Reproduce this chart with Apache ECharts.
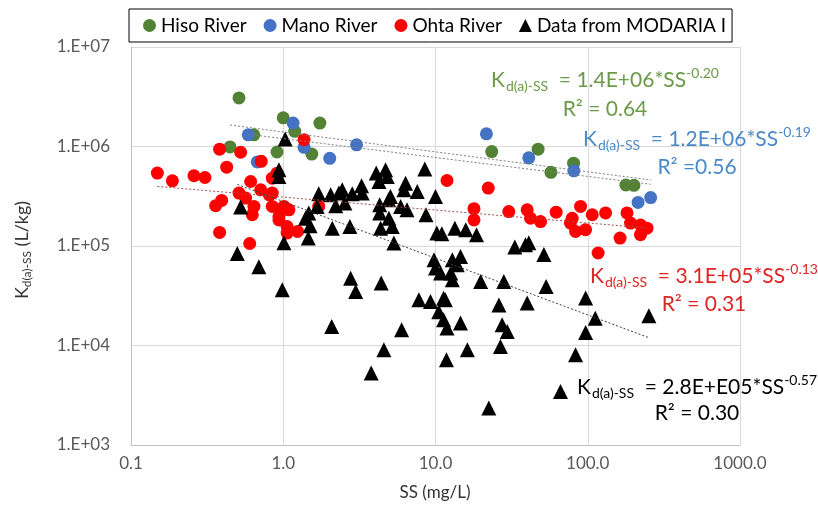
<!DOCTYPE html>
<html>
<head>
<meta charset="utf-8">
<script src="https://cdn.jsdelivr.net/npm/echarts@6/dist/echarts.min.js"></script>
<style>
  html, body { margin: 0; padding: 0; background: #fff; }
  #chart { width: 818px; height: 512px; }
</style>
</head>
<body>
<div id="chart"></div>
<script>
// Suspended solids (mg/L) and apparent distribution coefficient Kd(a)-SS (L/kg)
const hisoSS = [0.512, 1.0, 1.19, 1.74, 0.64, 0.447, 0.91, 1.54, 23.4, 47.2, 57.3, 80.7, 178, 201];
const hisoKd = [3.08e6, 1.94e6, 1.42e6, 1.72e6, 1.31e6, 9.9e5, 8.8e5, 8.4e5, 8.9e5, 9.4e5, 5.5e5, 6.8e5, 4.1e5, 4.07e5];

const manoSS = [0.589, 1.16, 1.37, 3.03, 2.02, 0.675, 21.6, 41, 81, 214, 259];
const manoKd = [1.31e6, 1.72e6, 9.8e5, 1.04e6, 7.6e5, 7.0e5, 1.34e6, 7.7e5, 5.7e5, 2.74e5, 3.07e5];

const ohtaSS = [0.149, 0.187, 0.259, 0.306, 0.382, 0.525, 0.425, 0.717, 0.382, 0.602,
  0.36, 0.394, 0.512, 0.611, 0.711, 0.566, 0.642, 0.626, 0.847, 0.847,
  0.847, 0.937, 1.01, 1.37, 0.91, 0.81, 0.985, 1.09, 0.937, 1.06,
  1.06, 1.24, 1.71, 11.9, 22.2, 17.9, 17.9, 30.3, 40, 42.1,
  49, 62, 79, 89.7, 83.2, 96.7, 107, 131, 117, 163,
  181, 191, 222, 222, 245, 77];
const ohtaKd = [5.41e5, 4.52e5, 5.08e5, 4.88e5, 9.4e5, 8.75e5, 6.2e5, 7.1e5, 1.37e5, 1.06e5,
  2.54e5, 2.87e5, 3.4e5, 4.45e5, 3.67e5, 3.03e5, 2.5e5, 2.06e5, 4.81e5, 3.4e5,
  2.5e5, 1.98e5, 2.5e5, 1.17e6, 5.4e5, 3.27e5, 2.31e5, 2.31e5, 1.83e5, 1.57e5,
  1.35e5, 1.4e5, 2.5e5, 4.55e5, 3.82e5, 2.37e5, 1.83e5, 2.22e5, 2.31e5, 1.9e5,
  1.76e5, 2.19e5, 1.9e5, 2.5e5, 1.4e5, 1.46e5, 2.06e5, 2.15e5, 8.5e4, 1.2e5,
  2.15e5, 1.7e5, 1.63e5, 1.3e5, 1.51e5, 1.7e5];

const modariaSS = [1.03, 0.937, 0.937, 0.525, 1.01, 0.499, 0.692, 1.46, 1.40, 1.47,
  1.67, 1.71, 2.1, 2.74, 2.05, 2.21, 2.44, 2.54, 2.84, 3.27,
  4.08, 4.7, 4.25, 4.82, 5.06, 4.3, 4.3, 4.94, 4.36, 5.2,
  5.33, 6.36, 6.2, 5.9, 6.5, 7.59, 8.51, 10.0, 8.66, 11.0,
  9.78, 10.0, 10.8, 2.32, 4.92, 2.77, 2.99, 4.4, 0.985, 7.78,
  9.27, 2.08, 5.99, 4.58, 3.78, 10.5, 11.3, 11.8, 11.3, 13.4,
  15.8, 18.6, 33.2, 39, 41, 51.5, 12.9, 14.6, 13.9, 12.6,
  12.9, 19.8, 28.1, 53.3, 11.6, 26.1, 40, 96.8, 11.9, 14.6,
  27.4, 29.6, 96.8, 112, 252, 16.2, 26.7, 83.2, 66.2, 22.4,
  1.5, 3.3, 10.2];
const modariaKd = [1.19e6, 5.83e5, 5.0e5, 2.46e5, 1.08e5, 8.4e4, 6.2e4, 1.2e5, 1.9e5, 2.14e5,
  2.5e5, 3.35e5, 1.51e5, 1.57e5, 3.27e5, 2.54e5, 3.67e5, 2.7e5, 3.35e5, 4.03e5,
  5.41e5, 5.83e5, 4.45e5, 5.0e5, 3.14e5, 2.6e5, 2.14e5, 1.9e5, 1.51e5, 1.57e5,
  1.07e5, 4.28e5, 3.67e5, 2.5e5, 2.31e5, 3.53e5, 5.93e5, 3.14e5, 2.06e5, 1.33e5,
  7.26e4, 6.0e4, 5.35e4, 3.4e5, 2.92e5, 4.75e4, 3.49e4, 4.24e4, 3.63e4, 2.88e4,
  2.77e4, 1.55e4, 1.44e4, 9.06e3, 5.28e3, 2.19e4, 1.81e4, 7.18e3, 2.99e4, 1.51e5,
  1.46e5, 1.3e5, 9.75e4, 1.03e5, 1.08e5, 8.2e4, 7.26e4, 7.83e4, 6.47e4, 5.35e4,
  4.57e4, 4.4e4, 4.4e4, 3.92e4, 2.88e4, 2.56e4, 2.67e4, 3.0e4, 1.5e4, 1.68e4,
  1.62e4, 1.38e4, 1.35e4, 1.88e4, 1.99e4, 9.06e3, 9.77e3, 8.07e3, 3.45e3, 2.35e3,
  1.6e5, 3.4e5, 1.35e5];

// Power-law fits Kd = a * SS^b, drawn over each data set's SS range
const fitA = [1.4e6, 1.2e6, 3.1e5, 2.8e5];
const fitB = [-0.20, -0.19, -0.13, -0.57];
const fitFrom = [0.447, 0.589, 0.149, 0.5];
const fitTo = [262, 259, 245, 252];

const xTickLabels = ['0.1', '1.0', '10.0', '100.0', '1000.0'];
const yTickLabels = ['1.E+03', '1.E+04', '1.E+05', '1.E+06', '1.E+07'];

const seriesNames = ['Hiso River', 'Mano River', 'Ohta River', 'Data from MODARIA I'];
const dotColors = ['#548235', '#4472c4', '#ff0000', '#000000'];
const fitColors = ['#7f7f7f', '#7f7f7f', '#a05050', '#404040'];
const noteColors = ['#6b9a48', '#4a8ac8', '#e02424', '#000000'];

const FONT = 'Lato, "Open Sans", sans-serif';

function pairs(xs, ys) { return xs.map((x, i) => [x, ys[i]]); }

const scatterSets = [
  pairs(hisoSS, hisoKd),
  pairs(manoSS, manoKd),
  pairs(ohtaSS, ohtaKd),
  pairs(modariaSS, modariaKd)
];

const series = [];
scatterSets.forEach((d, i) => {
  series.push({
    name: seriesNames[i],
    type: 'scatter',
    data: d,
    symbol: i === 3 ? 'triangle' : 'circle',
    symbolSize: i === 3 ? 15 : 13,
    itemStyle: { color: dotColors[i], opacity: 1 },
    z: 2,
    emphasis: { disabled: true }
  });
});
fitA.forEach((a, i) => {
  const b = fitB[i];
  series.push({
    name: 'fit' + i,
    type: 'line',
    data: [[fitFrom[i], a * Math.pow(fitFrom[i], b)], [fitTo[i], a * Math.pow(fitTo[i], b)]],
    symbol: 'none',
    lineStyle: { color: fitColors[i], width: 1, type: [2, 2] },
    z: 5,
    silent: true
  });
});

// Equation labels with sub/superscripts
function eqText(coef, exp) {
  return '{k|K}{sub|d(a)-SS}{m|  = ' + coef + '*SS}{sup|' + exp + '}';
}
function eqRich(color) {
  return {
    k: { fontSize: 21, fontFamily: FONT, fill: color, lineHeight: 27, verticalAlign: 'middle' },
    m: { fontSize: 21, fontFamily: FONT, fill: color, lineHeight: 27, verticalAlign: 'middle' },
    sub: { fontSize: 14, fontFamily: FONT, fill: color, lineHeight: 27, verticalAlign: 'bottom', padding: [0, 0, 0, 1] },
    sup: { fontSize: 14, fontFamily: FONT, fill: color, lineHeight: 27, verticalAlign: 'top' }
  };
}
const notes = [
  { coef: '1.4E+06', exp: '-0.20', r2: 'R² = 0.64', x: 605, y1: 80, y2: 109 },
  { coef: '1.2E+06', exp: '-0.19', r2: 'R² =0.56', x: 697, y1: 139, y2: 167 },
  { coef: '3.1E+05', exp: '-0.13', r2: 'R² = 0.31', x: 704, y1: 276, y2: 304 },
  { coef: '2.8E+E05', exp: '-0.57', r2: 'R² = 0.30', x: 697, y1: 387, y2: 413 }
];
const graphics = [];
notes.forEach((n, i) => {
  graphics.push({
    type: 'text', x: n.x, y: n.y1, z: 20,
    style: { text: eqText(n.coef, n.exp), rich: eqRich(noteColors[i]), align: 'center', verticalAlign: 'middle', fill: noteColors[i] }
  });
  graphics.push({
    type: 'text', x: n.x, y: n.y2, z: 20,
    style: { text: n.r2, font: '21px ' + FONT, fill: noteColors[i], align: 'center', verticalAlign: 'middle' }
  });
});
// Y axis title
graphics.push({
  type: 'text', x: 22, y: 250, rotation: Math.PI / 2, z: 20,
  style: {
    text: '{k|K}{sub|d(a)-SS}{m| (L/kg)}',
    align: 'center', verticalAlign: 'middle',
    rich: {
      k: { fontSize: 18, fontFamily: FONT, fill: '#333', lineHeight: 22, verticalAlign: 'middle' },
      m: { fontSize: 18, fontFamily: FONT, fill: '#333', lineHeight: 22, verticalAlign: 'middle' },
      sub: { fontSize: 12, fontFamily: FONT, fill: '#333', lineHeight: 22, verticalAlign: 'bottom' }
    }
  }
});
// X axis title
graphics.push({
  type: 'text', x: 435, y: 493, z: 20,
  style: { text: 'SS (mg/L)', font: '17px ' + FONT, fill: '#333', align: 'center', verticalAlign: 'middle' }
});

const chart = echarts.init(document.getElementById('chart'), null, { renderer: 'canvas' });
chart.setOption({
  animation: false,
  backgroundColor: '#ffffff',
  grid: { left: 131, right: 78, top: 47, bottom: 67, containLabel: false },
  legend: {
    data: seriesNames.map((n, i) => ({ name: n, icon: i === 3 ? 'triangle' : 'circle' })),
    left: 129, top: 9,
    padding: [7, 6, 7, 14],
    itemWidth: 13, itemHeight: 13, itemGap: 17,
    borderColor: '#000', borderWidth: 1,
    textStyle: { fontFamily: FONT, fontSize: 19, color: '#000' },
    selectedMode: false
  },
  xAxis: {
    type: 'log', logBase: 10, min: 0.1, max: 1000,
    axisLine: { show: true, lineStyle: { color: '#bfbfbf' } },
    axisTick: { show: false },
    splitLine: { show: true, lineStyle: { color: '#d9d9d9', width: 1 } },
    minorTick: { show: false },
    axisLabel: {
      fontFamily: FONT, fontSize: 17, color: '#595959', margin: 10,
      formatter: v => xTickLabels[Math.round(Math.log10(v)) + 1] || ''
    }
  },
  yAxis: {
    type: 'log', logBase: 10, min: 1000, max: 1e7,
    axisLine: { show: true, lineStyle: { color: '#bfbfbf' } },
    axisTick: { show: false },
    splitLine: { show: true, lineStyle: { color: '#d9d9d9', width: 1 } },
    axisLabel: {
      fontFamily: FONT, fontSize: 17, color: '#595959', margin: 21,
      formatter: v => yTickLabels[Math.round(Math.log10(v)) - 3] || ''
    }
  },
  series: series,
  graphic: graphics
});
</script>
</body>
</html>
